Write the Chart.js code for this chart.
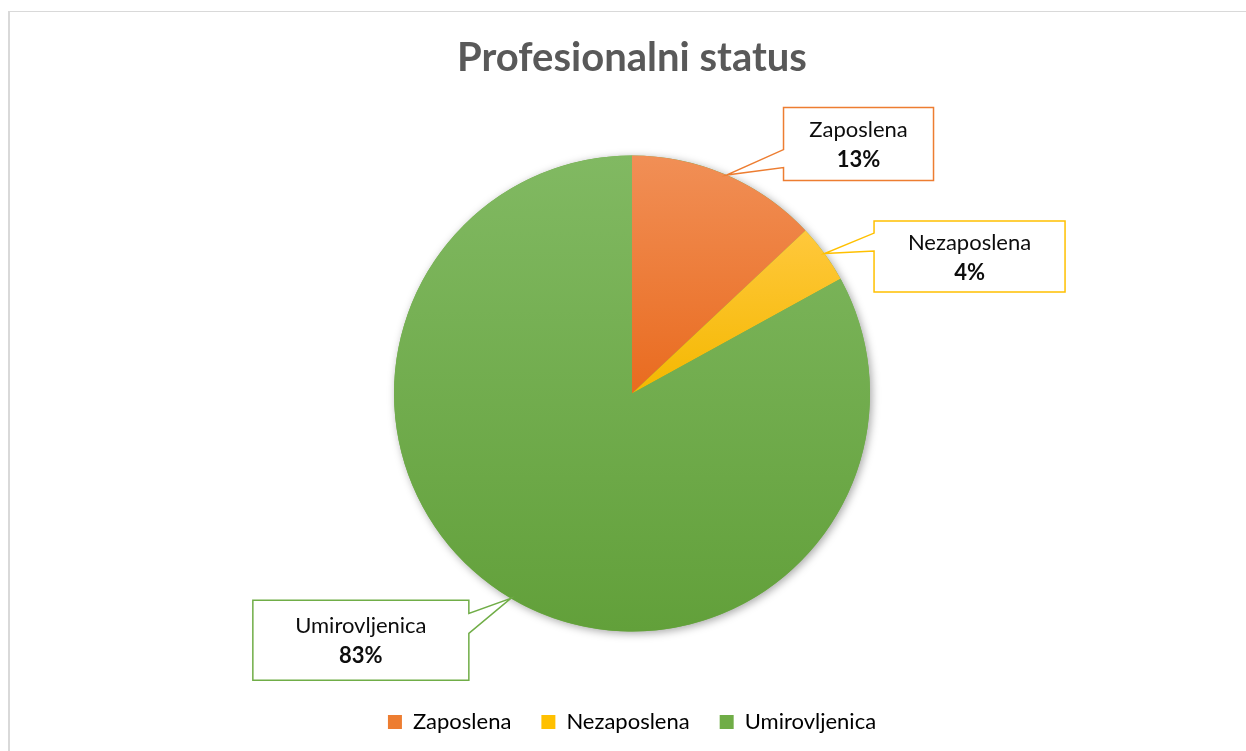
<!DOCTYPE html>
<html>
<head>
<meta charset="utf-8">
<title>Profesionalni status</title>
<script src="https://cdn.jsdelivr.net/npm/chart.js@4.4.1/dist/chart.umd.min.js"></script>
<style>
  html, body { margin: 0; padding: 0; background: #fff; overflow: hidden; }
  #frame {
    position: absolute; left: 8px; top: 11px; width: 1300px; height: 800px;
    border-left: 2px solid #d9d9d9; border-top: 1px solid #d9d9d9;
  }
  #wrap { position: absolute; left: 0; top: 0; width: 1246px; height: 780px; }
</style>
</head>
<body>
<div id="frame"></div>
<div id="wrap"><canvas id="chart"></canvas></div>
<script>
/* ─── data ─────────────────────────────────────────────── */
const categories = ['Zaposlena', 'Nezaposlena', 'Umirovljenica'];
const shares = [13, 4, 83];

/* ─── styles ───────────────────────────────────────────── */
const SLICE_TOP    = ['#F18F56', '#FFC83C', '#81B962'];
const SLICE_BOTTOM = ['#E96B1F', '#F4B800', '#62A03A'];
const SOLID        = ['#ED7D31', '#FFC000', '#70AD47'];
const PIE_RADIUS = 238;
const FONT = 'Lato, "Open Sans", "Noto Sans", sans-serif';

// callout boxes: offset of box centre from the anchor on the rim, box size,
// side carrying the pointer and where its base sits (px from box top)
const CALLOUTS = [
  { dx: 132, dy: -31, w: 150, h: 73, side: 'left',  base: [42, 60] },
  { dx: 145, dy: 3,   w: 191, h: 71, side: 'left',  base: [12, 30] },
  { dx: -150, dy: 42, w: 216, h: 80, side: 'right', base: [13, 33] },
];

const total = shares.reduce((a, b) => a + b, 0);

// vertical extent of a slice, used for its gradient
function sliceExtent(cy, r, a0, a1) {
  const ys = [cy, cy + Math.sin(a0) * r, cy + Math.sin(a1) * r];
  for (let k = -4; k <= 8; k++) {
    const a = k * Math.PI / 2;
    if (a > a0 && a < a1) ys.push(cy + Math.sin(a) * r);
  }
  return [Math.min(...ys), Math.max(...ys)];
}

function sliceFill(ctx) {
  const chart = ctx.chart;
  const area = chart.chartArea;
  const i = ctx.dataIndex;
  if (!area || i === undefined) return SOLID[i] || SOLID[0];
  const cy = (area.top + area.bottom) / 2;
  let before = 0;
  for (let k = 0; k < i; k++) before += shares[k];
  const a0 = -Math.PI / 2 + before / total * 2 * Math.PI;
  const a1 = a0 + shares[i] / total * 2 * Math.PI;
  const [y0, y1] = sliceExtent(cy, PIE_RADIUS, a0, a1);
  const g = chart.ctx.createLinearGradient(0, y0, 0, y1);
  g.addColorStop(0, SLICE_TOP[i]);
  g.addColorStop(1, SLICE_BOTTOM[i]);
  return g;
}

/* soft shadow under the whole pie */
const pieShadow = {
  id: 'pieShadow',
  beforeDatasetsDraw(chart) {
    const arc = chart.getDatasetMeta(0).data[0];
    if (!arc) return;
    const { ctx } = chart;
    ctx.save();
    ctx.shadowColor = 'rgba(0, 0, 0, 0.35)';
    ctx.shadowBlur = 8;
    ctx.shadowOffsetX = 2;
    ctx.shadowOffsetY = 2;
    ctx.fillStyle = SOLID[2];
    ctx.beginPath();
    ctx.arc(arc.x, arc.y, arc.outerRadius, 0, Math.PI * 2);
    ctx.fill();
    ctx.restore();
  },
};

/* callout labels with pointers */
const callouts = {
  id: 'callouts',
  afterDatasetsDraw(chart) {
    const { ctx } = chart;
    chart.getDatasetMeta(0).data.forEach((arc, i) => {
      const c = CALLOUTS[i];
      const mid = (arc.startAngle + arc.endAngle) / 2;
      const ax = arc.x + Math.cos(mid) * arc.outerRadius;
      const ay = arc.y + Math.sin(mid) * arc.outerRadius;
      const x0 = ax + c.dx - c.w / 2, x1 = x0 + c.w;
      const y0 = ay + c.dy - c.h / 2, y1 = y0 + c.h;

      ctx.save();
      ctx.beginPath();
      ctx.moveTo(x0, y0);
      ctx.lineTo(x1, y0);
      if (c.side === 'right') {
        ctx.lineTo(x1, y0 + c.base[0]);
        ctx.lineTo(ax, ay);
        ctx.lineTo(x1, y0 + c.base[1]);
      }
      ctx.lineTo(x1, y1);
      ctx.lineTo(x0, y1);
      if (c.side === 'left') {
        ctx.lineTo(x0, y0 + c.base[1]);
        ctx.lineTo(ax, ay);
        ctx.lineTo(x0, y0 + c.base[0]);
      }
      ctx.closePath();
      ctx.fillStyle = '#ffffff';
      ctx.fill();
      ctx.lineWidth = 1.5;
      ctx.strokeStyle = SOLID[i];
      ctx.stroke();

      const cx = (x0 + x1) / 2, cy = (y0 + y1) / 2;
      ctx.fillStyle = '#0d0d0d';
      ctx.textAlign = 'center';
      ctx.textBaseline = 'middle';
      ctx.font = '22px ' + FONT;
      ctx.fillText(categories[i], cx, cy - 14);
      ctx.font = 'bold 22px ' + FONT;
      ctx.fillText(Math.round(shares[i] / total * 100) + '%', cx, cy + 16);
      ctx.restore();
    });
  },
};

new Chart(document.getElementById('chart'), {
  type: 'pie',
  data: {
    labels: categories,
    datasets: [{
      data: shares,
      backgroundColor: sliceFill,
      borderWidth: 0,
      radius: PIE_RADIUS,
    }],
  },
  plugins: [pieShadow, callouts],
  options: {
    responsive: true,
    maintainAspectRatio: false,
    animation: false,
    layout: { padding: { left: 18, right: 0, top: 0, bottom: 37 } },
    plugins: {
      title: {
        display: true,
        text: 'Profesionalni status',
        color: '#595959',
        font: { family: FONT, size: 40, weight: 'bold' },
        padding: { top: 34, bottom: 24 },
      },
      legend: {
        position: 'bottom',
        labels: {
          color: '#595959',
          font: { family: FONT, size: 22 },
          boxWidth: 14,
          boxHeight: 14,
          padding: 30,
          generateLabels: () => categories.map((text, i) => ({
            text,
            fillStyle: SOLID[i],
            strokeStyle: SOLID[i],
            lineWidth: 0,
            index: i,
            hidden: false,
          })),
        },
      },
      tooltip: { enabled: false },
    },
  },
});
</script>
</body>
</html>
